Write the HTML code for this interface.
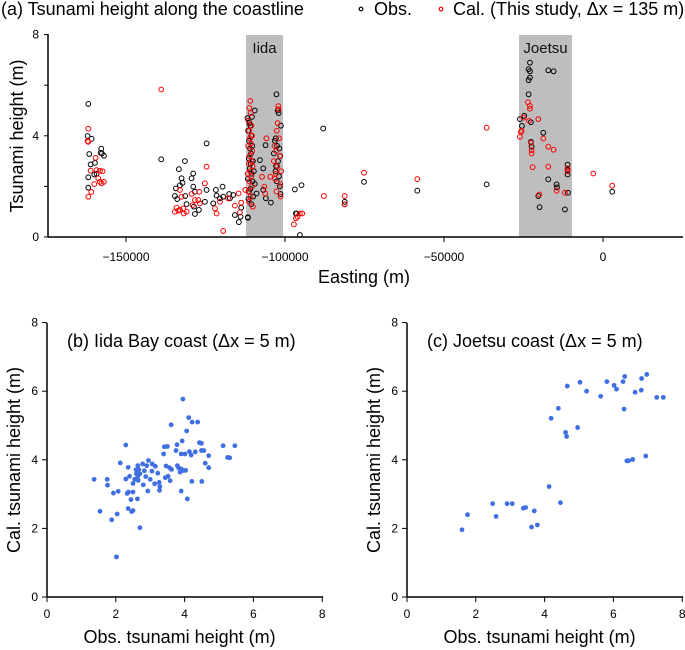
<!DOCTYPE html>
<html><head><meta charset="utf-8"><style>
body{margin:0;background:#fff}
svg{display:block;font-family:"Liberation Sans",sans-serif}
</style></head><body>
<svg id="s" width="685" height="650" viewBox="0 0 685 650"></svg>
<script>
// ---- Panel (a) data: easting (m), height (m)
const obsE=[-161860,-162070,-160810,-161550,-161130,-159770,-159250,-159980,-161860,-157780,-157570,-156940,-157990,-161860,
-138920,-131480,-133370,-132530,-132210,-133050,-134300,-134620,-133890,-131370,-130950,-128860,-129380,-128860,-128330,-128650,-128330,-127080,-124660,-124660,-125190,-121730,-121520,-119630,-119420,-117540,-117330,-120470,-122570,-115760,-114500,-113970,-113760,-111670,-116280,
-111800,-111500,-111200,-110900,-111600,-110600,-111300,-110300,-111000,-110700,-111400,-110100,-110800,-111100,-109800,-110500,-111700,-110200,-109500,-110900,-111300,-110000,-111500,-110600,-111670,-109500,-110400,
-107900,-106850,-106120,-106020,-104440,-106850,-108940,
-102700,-102300,-102000,-101300,-102900,-103200,-102500,-101800,-103500,-101500,-102200,-102800,-103000,-101900,-102600,-101600,-101400,
-96900,-96580,-96370,-95320,-94800,-87980,
-81240,-81240,-75160,-58400,-36600,-22970,-23390,-22970,-22970,-23390,-23390,-17210,-15530,-26120,-24760,-25490,-22660,-18780,-22660,-22450,-17210,-14590,-14480,-11130,-11130,-11130,-11030,-20350,-19930,-11970,2910];
const obsH=[5.26,3.99,3.88,3.28,2.87,2.93,2.5,2.47,1.95,3.49,3.30,3.21,3.33,2.36,
3.07,3.0,2.68,2.32,2.14,2.04,1.92,1.62,1.5,1.62,1.30,2.51,2.32,1.99,1.79,1.20,0.91,1.07,3.70,1.86,1.39,1.86,1.64,1.99,1.59,1.70,1.53,1.53,1.33,0.87,0.59,0.80,1.16,0.78,1.66,
4.7,4.6,4.5,4.4,4.2,4.0,3.8,3.6,3.5,3.3,3.1,3.0,2.9,2.7,2.6,2.5,2.3,2.2,2.1,1.9,1.8,1.6,1.5,1.3,0.76,5.0,4.75,
3.04,2.71,3.63,1.53,1.36,1.86,1.72,
5.64,5.0,4.9,4.4,3.9,3.8,3.6,3.5,3.3,3.2,3.0,2.8,2.6,2.4,2.2,2.0,1.7,
1.88,0.93,0.93,0.08,2.05,4.29,
1.39,1.29,2.18,1.83,2.08,6.89,6.63,6.55,6.3,6.2,5.64,6.59,6.55,4.66,4.79,4.39,4.54,4.12,3.76,3.57,2.28,2.08,1.96,2.86,2.64,2.47,1.75,1.62,1.18,1.09,1.79];
const calE=[-161860,-162070,-161860,-159560,-161130,-159250,-158200,-157360,-159980,-161860,-160920,-158200,-156940,-157680,-158720,
-138920,-134100,-134620,-133050,-133580,-132000,-130950,-131790,-133050,-132530,-129380,-128330,-129060,-126970,-127290,-126760,-125190,-124660,-122040,-121520,-119420,-117850,-120470,-115760,-114600,-114190,-113760,-112500,
-110900,-111200,-110800,-111500,-110600,-111300,-110400,-111000,-110700,-111600,-110300,-111100,-110500,-111400,-110200,-110900,-111700,-110600,-111200,-110400,-111500,-110800,-111300,-110100,
-105850,-107220,-106500,-106200,-104640,
-102100,-102000,-102300,-102600,-101900,-103300,-102800,-101600,-103500,-102400,-101200,-102900,-103100,-101500,-102700,-101400,
-97200,-96580,-96060,-95320,-94590,-87770,
-81240,-81240,-75160,-58400,-36600,-23600,-22970,-22970,-24970,-23290,-20350,-25600,-25800,-26120,-22660,-22450,-22450,-18780,-17210,-15530,-22130,-17210,-14590,-11970,-11130,-11130,-3060,2910,-20030];
const calH=[4.28,3.79,3.76,3.13,2.62,2.64,2.62,2.6,2.09,1.59,1.78,2.18,2.18,2.12,2.32,
5.83,1.16,1.0,1.07,1.04,1.13,1.0,0.93,1.86,1.59,1.70,1.46,1.26,1.79,1.46,1.33,2.12,2.78,1.13,0.93,0.24,1.53,1.39,1.24,1.72,0.97,1.36,1.86,
5.38,5.1,4.9,4.6,4.4,4.2,4.0,3.9,3.7,3.6,3.4,3.2,3.0,2.9,2.8,2.6,2.5,2.4,2.2,2.0,1.8,1.6,1.4,1.2,
3.9,2.38,1.99,1.72,2.38,
5.17,5.05,4.5,4.2,3.9,3.6,3.4,3.2,3.0,2.8,2.6,2.5,2.3,2.1,1.8,1.6,
0.5,0.74,0.8,0.93,0.93,1.62,
1.62,1.29,2.54,2.29,4.32,5.33,5.18,5.07,4.72,4.59,4.66,4.2,4.15,3.96,3.72,3.43,3.3,3.89,3.57,3.45,2.76,2.78,1.83,1.75,2.71,2.6,2.51,2.03,1.68];
const aXTicks=[-150000,-100000,-50000,0];
const aYTicks=[0,4,8];
// ---- Panel (b) Iida
const iidaObs=[3.95,4.12,4.22,4.38,3.61,4.06,3.93,2.29,3.78,3.41,3.50,4.43,4.49,5.12,5.46,3.75,4.14,4.31,4.49,4.56,3.90,4.01,3.39,4.19,4.70,5.25,5.31,2.95,2.13,2.78,3.06,4.60,2.64,2.90,3.15,2.36,3.46,3.56,3.79,4.70,2.59,2.67,2.83,3.05,3.62,3.83,3.90,3.96,4.03,3.87,2.60,2.70,3.22,2.40,2.64,2.87,3.52,1.37,1.75,2.29,2.55,3.0,3.44,2.65,3.26,3.58,1.76,2.5,2.80,3.13,3.28,4.21,4.50,1.93,2.07,2.33,2.5,2.37,2.93,3.27,3.90,2.44,2.63,4.08,1.54,2.36,2.46,2.5,2.04,1.88,2.70,2.02];
const iidaCal=[5.77,5.23,5.10,5.10,5.02,4.84,4.55,4.43,4.44,4.38,4.39,4.50,4.48,4.41,4.41,4.27,4.24,4.23,4.27,4.27,4.17,4.17,4.17,4.14,4.12,4.07,4.06,3.98,3.91,3.88,3.88,3.90,3.83,3.83,3.81,3.78,3.82,3.77,3.83,3.77,3.71,3.71,3.68,3.67,3.72,3.76,3.73,3.69,3.69,3.64,3.59,3.59,3.61,3.52,3.51,3.51,3.52,3.43,3.43,3.44,3.43,3.43,3.48,3.40,3.34,3.39,3.26,3.31,3.27,3.30,3.22,3.37,3.37,3.03,3.08,3.02,3.06,3.06,3.09,3.11,3.09,2.84,2.86,2.86,2.50,2.58,2.49,2.52,2.42,2.25,2.02,1.17];
// ---- Panel (c) Joetsu
const joeObs=[1.6,1.76,2.49,2.59,2.91,3.06,3.38,3.45,3.70,3.62,3.79,4.13,4.46,4.19,4.40,4.61,4.64,4.66,4.96,5.03,5.22,5.63,5.81,6.02,6.09,6.28,6.33,6.31,6.39,6.44,6.56,6.63,6.81,6.82,6.97,6.94,7.26,7.45];
const joeCal=[1.96,2.4,2.72,2.35,2.72,2.72,2.59,2.61,2.51,2.04,2.10,3.22,2.75,5.21,5.50,4.80,4.68,6.15,4.94,6.26,6.0,5.85,6.28,6.17,6.06,6.28,6.43,5.48,3.97,3.97,4.01,5.97,6.03,6.37,6.49,4.11,5.82,5.82];
const bTicks=[0,2,4,6,8];

const S=document.getElementById('s');const NS='http://www.w3.org/2000/svg';
function mk(tag,at,parent){const e=document.createElementNS(NS,tag);for(const k in at)e.setAttribute(k,at[k]);(parent||S).appendChild(e);return e;}
function txt(str,at,parent){const e=mk('text',at,parent);e.textContent=str;return e;}

const ax=v=>603+v*0.00318, ay=v=>237-v*25.3;
const gA=mk('g',{});


const b1=mk('rect',{x:246,y:35,width:37,height:202,fill:'#bebebe'},gA);


const b2=mk('rect',{x:519,y:35,width:53,height:202,fill:'#bebebe'},gA);


const l1=txt('Iida',{x:264.5,y:53,'font-size':15,'text-anchor':'middle',fill:'#111'},gA);


const l2=txt('Joetsu',{x:545.5,y:53,'font-size':15,'text-anchor':'middle',fill:'#111'},gA);


for(let i=0;i<obsE.length;i++){const c=mk('circle',{cx:ax(obsE[i]),cy:ay(obsH[i]),r:2.4,fill:'none',stroke:'#000','stroke-width':1},gA);

}
for(let i=0;i<calE.length;i++){const c=mk('circle',{cx:ax(calE[i]),cy:ay(calH[i]),r:2.4,fill:'none',stroke:'#f00','stroke-width':1},gA);

}
mk('line',{x1:48,y1:237,x2:683,y2:237,stroke:'#000','stroke-width':1.5},gA);
mk('line',{x1:48,y1:34,x2:48,y2:237,stroke:'#000','stroke-width':1.5},gA);
aXTicks.forEach(t=>{mk('line',{x1:ax(t),y1:237,x2:ax(t),y2:242,stroke:'#000'},gA);
txt(String(t).replace('-','\u2212'),{x:ax(t),y:261,'font-size':12,'text-anchor':'middle'},gA);});
[0,2,4,6,8].forEach(t=>mk('line',{x1:44,y1:ay(t),x2:48,y2:ay(t),stroke:'#000'},gA));
aYTicks.forEach(t=>txt(String(t),{x:39,y:ay(t)+4,'font-size':12,'text-anchor':'end'},gA));
const xa=txt('Easting (m)',{x:364,y:283,'font-size':18,'text-anchor':'middle'},gA);


const ya=txt('Tsunami height (m)',{x:0,y:0,'font-size':18,'text-anchor':'middle',transform:'translate(23,136) rotate(-90)'},gA);


const tA=txt('(a) Tsunami height along the coastline',{x:1,y:15,'font-size':18},gA);


const lg=mk('g',{},gA);


mk('circle',{cx:361,cy:9,r:1.8,fill:'none',stroke:'#000','stroke-width':1.2},lg);
txt('Obs.',{x:374,y:15,'font-size':18},lg);
mk('circle',{cx:441,cy:9,r:1.8,fill:'none',stroke:'#f00','stroke-width':1.2},lg);
txt('Cal. (This study, \u0394x = 135 m)',{x:453,y:15,'font-size':18},lg);

function scatter(x0,name,title,xs,ys){
  const g=mk('g',{});
  
  
  const sx=v=>x0+v*34.4, sy=v=>597-v*34.3;
  for(let i=0;i<xs.length;i++){const c=mk('circle',{cx:sx(xs[i]),cy:sy(ys[i]),r:2.4,fill:'#3f6fe0'},g);
  
  }
  mk('line',{x1:x0,y1:597,x2:sx(8)+1,y2:597,stroke:'#000','stroke-width':1.5},g);
  mk('line',{x1:x0,y1:323,x2:x0,y2:597,stroke:'#000','stroke-width':1.5},g);
  bTicks.forEach(t=>{mk('line',{x1:sx(t),y1:597,x2:sx(t),y2:602,stroke:'#000'},g);
    txt(String(t),{x:sx(t),y:618,'font-size':12,'text-anchor':'middle'},g);
    mk('line',{x1:x0-5,y1:sy(t),x2:x0,y2:sy(t),stroke:'#000'},g);
    txt(String(t),{x:x0-9,y:sy(t)+4,'font-size':12,'text-anchor':'end'},g);});
  txt('Obs. tsunami height (m)',{x:sx(4)-5,y:643,'font-size':18,'text-anchor':'middle'},g);
  txt('Cal. tsunami height (m)',{x:0,y:0,'font-size':18,'text-anchor':'middle',transform:'translate('+(x0-27)+',460) rotate(-90)'},g);
  txt(title,{x:x0+20,y:347,'font-size':18},g);
}
scatter(47,'panel-b-iida','(b) Iida Bay coast (\u0394x = 5 m)',iidaObs,iidaCal);
scatter(407,'panel-c-joetsu','(c) Joetsu coast (\u0394x = 5 m)',joeObs,joeCal);
</script>
</body></html>
